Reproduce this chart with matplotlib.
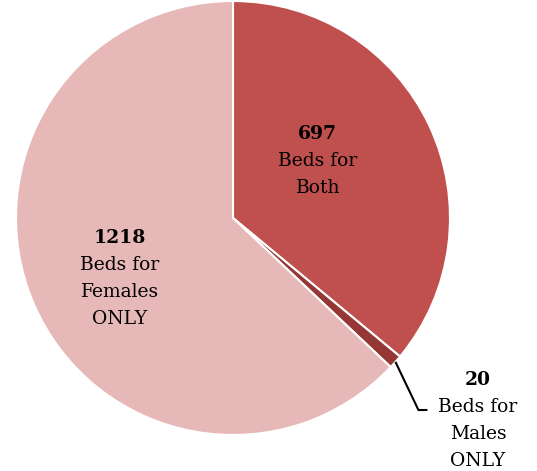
import numpy as np
import matplotlib.pyplot as plt

counts = [697, 20, 1218]
numbers = ['697', '20', '1218']
texts = ['Beds for\nBoth', 'Beds for\nMales\nONLY', 'Beds for\nFemales\nONLY']
colors = ['#C0504D', '#953735', '#E6B9B8']

W, H = 537, 471
fig = plt.figure(figsize=(W / 100, H / 100), dpi=100)
ax = fig.add_axes([0, 0, 1, 1])

cx, cy, R = 233, H - 218, 217
wedges, _ = ax.pie(counts, colors=colors, startangle=90, counterclock=False,
                   center=(cx, cy), radius=R, frame=True,
                   wedgeprops=dict(edgecolor='white', linewidth=1.5))
ax.set_xlim(0, W)
ax.set_ylim(0, H)
ax.set_aspect('equal')
ax.axis('off')

font = dict(family='DejaVu Serif', fontsize=13.5)
lsp = 27  # line spacing in px


def label(x, ytop, num, txt):
    ax.text(x, ytop, num, ha='center', va='center', fontweight='bold', **font)
    for i, line in enumerate(txt.split('\n')):
        ax.text(x, ytop - lsp * (i + 1), line, ha='center', va='center', **font)


def mid_angle(w):
    return np.deg2rad((w.theta1 + w.theta2) / 2)


# Both
a = mid_angle(wedges[0])
r = 0.47 * R
label(cx + r * np.cos(a + 0.15), cy + r * np.sin(a + 0.15) + 27, numbers[0], texts[0])

# Females
a = mid_angle(wedges[2])
r = 0.59 * R
label(cx + r * np.cos(a + 0.08), cy + r * np.sin(a + 0.08) + 40, numbers[2], texts[2])

# Males, outside with leader line
a = mid_angle(wedges[1])
px, py = cx + R * np.cos(a), cy + R * np.sin(a)
kx, ky = px + 23, H - 410
ax.plot([px, kx, kx + 9], [py, ky, ky], color='black', lw=1.5,
        solid_capstyle='butt', solid_joinstyle='miter')
label(478, H - 380, numbers[1], texts[1])

fig.savefig('out.png', dpi=100)
